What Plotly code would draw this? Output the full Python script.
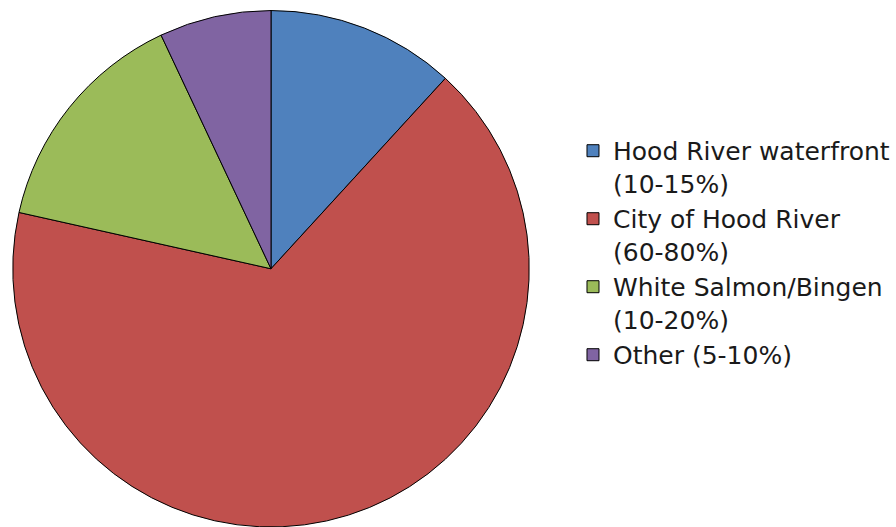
import plotly.graph_objects as go

labels = [
    "Hood River waterfront<br>(10-15%)",
    "City of Hood River<br>(60-80%)",
    "White Salmon/Bingen<br>(10-20%)",
    "Other (5-10%)",
]
values = [11.8, 66.7, 14.5, 7.0]
colors = ["#4F81BD", "#C0504D", "#9BBB59", "#8064A2"]

fig = go.Figure(
    go.Pie(
        labels=labels,
        values=values,
        sort=False,
        direction="clockwise",
        rotation=0,
        marker=dict(colors=colors, line=dict(color="#000000", width=1)),
        textinfo="none",
        hoverinfo="label+percent",
        domain=dict(x=[12 / 896, 530 / 896], y=[0.0, 0.98]),
    )
)

fig.update_layout(
    width=896,
    height=527,
    margin=dict(l=0, r=0, t=0, b=0),
    paper_bgcolor="white",
    plot_bgcolor="white",
    showlegend=True,
    legend=dict(
        x=0.6395,
        y=0.52,
        xanchor="left",
        yanchor="middle",
        valign="top",
        font=dict(family="DejaVu Sans", size=25, color="#1a1a1a"),
        itemwidth=30,
        tracegroupgap=0,
        bgcolor="rgba(0,0,0,0)",
    ),
)

fig.write_html("out.html")
